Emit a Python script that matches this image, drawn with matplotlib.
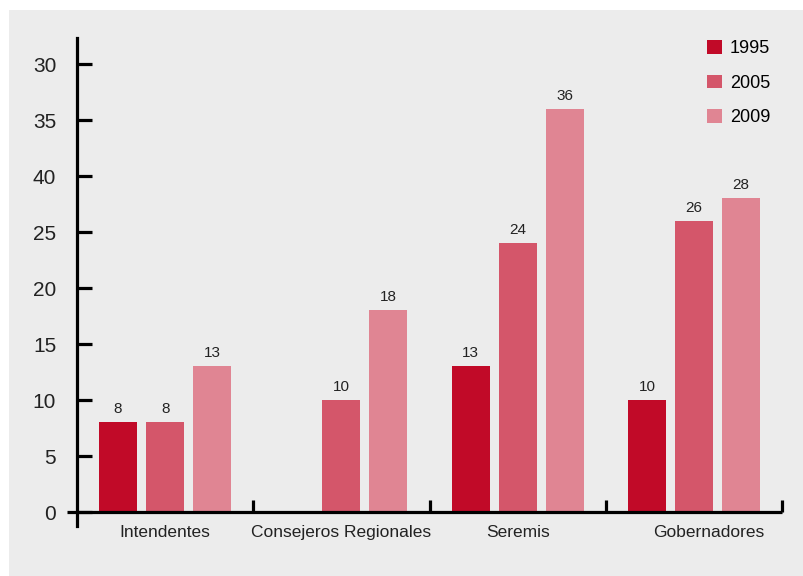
import matplotlib
matplotlib.use("Agg")
import matplotlib.pyplot as plt
from matplotlib.patches import Rectangle, Patch
import matplotlib.transforms as mtransforms
import numpy as np

categories = ["Intendentes", "Consejeros Regionales", "Seremis", "Gobernadores"]
series_names = ["1995", "2005", "2009"]
v1995 = [8, None, 13, 10]
v2005 = [8, 10, 24, 26]
v2009 = [13, 18, 36, 28]
y_ticks = [0, 5, 10, 15, 20, 25, 30, 35, 40]
y_tick_labels = ["0", "5", "10", "15", "20", "25", "40", "35", "30"]

colors = ["#c10a28", "#d4566a", "#e08593"]
bg = "#ececec"
FONT = ["Liberation Sans", "DejaVu Sans"]
plt.rcParams['font.family'] = FONT

fig = plt.figure(figsize=(8.04, 5.76), dpi=100)
W, H = 804, 576
fig.patches.append(Rectangle((9 / W, 0), 1, 1 - 10 / H, transform=fig.transFigure,
                             facecolor=bg, edgecolor="none", zorder=-10))

ax_l, ax_r = 77, 782
ax_b, ax_t = 526, 38
ax = fig.add_axes([ax_l / W, 1 - ax_b / H, (ax_r - ax_l) / W, (ax_b - ax_t) / H])
ax.set_facecolor("none")
px_per_unit = 11.2
ymin = -(ax_b - 512) / px_per_unit
ymax = (512 - ax_t) / px_per_unit
ax.set_xlim(0, 4)
ax.set_ylim(ymin, ymax)

bw = 38 / 176.25
step = 47 / 176.25
x = np.arange(len(categories)) + 0.5
for k, (vals, c) in enumerate(zip([v1995, v2005, v2009], colors)):
    for i, v in enumerate(vals):
        if v is None:
            continue
        xc = x[i] + (k - 1) * step
        ax.bar(xc, v, width=bw, color=c, zorder=2)
        ax.text(xc, v + 0.55, str(v), ha="center", va="bottom", fontsize=11,
                color="#222222", family=FONT)

lw = 2.3
for s in ["top", "right", "bottom"]:
    ax.spines[s].set_visible(False)
ax.spines["left"].set_linewidth(lw)
ax.spines["left"].set_color("black")

ax.plot([-10 / 176.25, 4], [0, 0], color="black", lw=lw, clip_on=False,
        solid_capstyle="butt", zorder=3)
for b in [1, 2, 3, 4]:
    ax.plot([b, b], [0, 12 / px_per_unit], color="black", lw=lw, clip_on=False,
            solid_capstyle="butt", zorder=3)

ax.set_yticks(y_ticks)
ax.set_yticklabels(y_tick_labels, fontsize=15, family=FONT, color="#222222")
ax.tick_params(axis="y", direction="in", length=11, width=lw, pad=15)

ax.set_xticks(x)
ax.set_xticklabels(categories, fontsize=12.5, family=FONT, color="#222222")
ax.tick_params(axis="x", length=0, pad=-1)
lbls = ax.get_xticklabels()
lbls[3].set_transform(lbls[3].get_transform() +
                      mtransforms.ScaledTranslation(15 / 100, 0, fig.dpi_scale_trans))

handles = [Patch(facecolor=c, edgecolor="none") for c in colors]
leg = ax.legend(handles, series_names, loc="upper left",
                bbox_to_anchor=((700 - ax_l) / (ax_r - ax_l), 1 - (33 - ax_t) / (ax_b - ax_t)),
                frameon=False, handlelength=0.8, handleheight=0.8,
                handletextpad=0.45, labelspacing=0.95, borderaxespad=0,
                prop={"family": FONT, "size": 13})

fig.savefig("out.png", dpi=100)
